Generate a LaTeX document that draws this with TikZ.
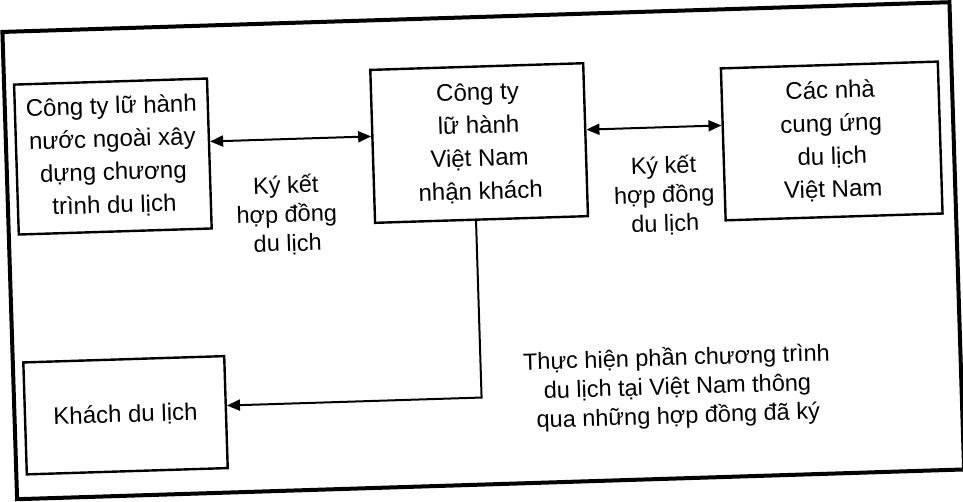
\documentclass[tikz,border=0pt]{standalone}
\usepackage{fontspec}
\setmainfont{Liberation Sans}
\usetikzlibrary{arrows.meta}
\begin{document}
\begin{tikzpicture}[x=1pt,y=-1pt,
  box/.style={draw,line width=2.4pt,inner sep=0pt,align=center,font=\fontsize{24}{33}\selectfont},
  lbl/.style={inner sep=0pt,align=center,font=\fontsize{23.5}{29}\selectfont},
  conn/.style={line width=2pt,>={Triangle[length=13pt,width=11pt]}},
  frame/.style={line width=4pt}]
\useasboundingbox (0,0) rectangle (963,501);
\clip (0,0) rectangle (963,501);
\begin{scope}[rotate around={1.8:(481.5,250.5)},transform shape]
  \draw[frame] (9.5,17) rectangle (957,484.5);
  \node[box,minimum width=193pt,minimum height=150pt] (b1) at (116,145)
    {Công ty lữ hành\\nước ngoài xây\\dựng chương\\trình du lịch};
  \node[box,minimum width=213pt,minimum height=153pt] (b2) at (482.5,143)
    {Công ty\\lữ hành\\Việt Nam\\nhận khách};
  \node[box,minimum width=217pt,minimum height=152pt] (b3) at (835,152)
    {Các nhà\\cung ứng\\du lịch\\Việt Nam};
  \node[box,minimum width=201pt,minimum height=112pt] (b4) at (120.5,404)
    {Khách du lịch};
  \node[lbl] (l12) at (288,209) {Ký kết\\hợp đồng\\du lịch};
  \node[lbl] (l23) at (666,201) {Ký kết\\hợp đồng\\du lịch};
  \node[lbl] (l24) at (673,394) {Thực hiện phần chương trình\\du lịch tại Việt Nam thông\\qua những hợp đồng đã ký};
  \coordinate (r12) at (0,133);
  \coordinate (c24) at (477,397.5);
  \draw[conn,<->] (b1.east |- r12) -- (b2.west |- r12);
  \draw[conn,<->] (b2.east |- r12) -- (b3.west |- r12);
  \draw[conn,->] (b2.south -| c24) -- (c24) -- (b4.east |- c24);
\end{scope}
\end{tikzpicture}
\end{document}
